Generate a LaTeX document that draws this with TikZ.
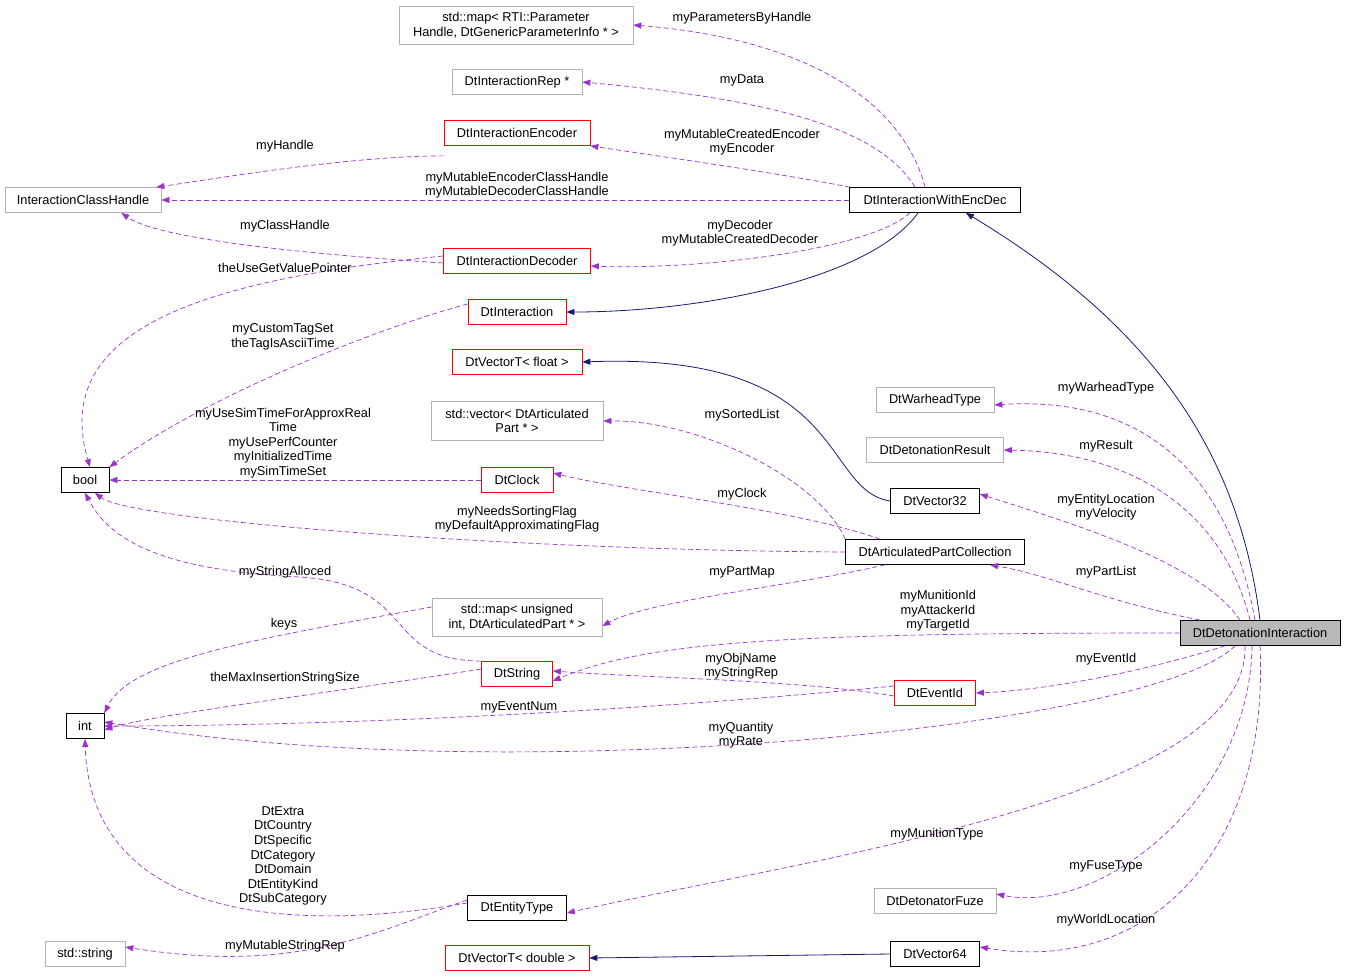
\documentclass[tikz,border=0pt]{standalone}
\usepackage{fontspec}
\setmainfont{Liberation Sans}
\usetikzlibrary{arrows.meta}
\definecolor{pur}{HTML}{9A32CD}
\definecolor{nav}{HTML}{191970}
\begin{document}
\begin{tikzpicture}[x=1pt,y=-1pt,
  every node/.style={font=\fontsize{12.8}{14.6}\selectfont,align=center,inner sep=1pt},
  box/.style={draw,fill=white,minimum height=25,line width=0.7pt},
  blk/.style={box,draw=black},
  red/.style={box,draw=red},
  gry/.style={box,draw=gray!60},
  uses/.style={draw=pur,dashed,line width=0.7pt,-{Triangle[length=8pt,width=6pt]},dash pattern=on 5pt off 3pt},
  inh/.style={draw=nav,line width=0.8pt,-{Triangle[length=8pt,width=6pt]}},
  lab/.style={}]
\useasboundingbox (0,0) rectangle (1347,980);
\node[gry,minimum width=234,minimum height=38] (rti) at (516,25) {std::map< RTI::Parameter\\Handle, DtGenericParameterInfo * >};
\node[gry,minimum width=130] (rep) at (517,82) {DtInteractionRep *};
\node[red,minimum width=146] (enc) at (517,133) {DtInteractionEncoder};
\node[gry,minimum width=156] (ich) at (83,200) {InteractionClassHandle};
\node[blk,minimum width=171] (iwe) at (935,200) {DtInteractionWithEncDec};
\node[red,minimum width=147] (dec) at (517,261) {DtInteractionDecoder};
\node[red,minimum width=98] (int0) at (517,312) {DtInteraction};
\node[red,minimum width=130] (vf) at (517,362) {DtVectorT< float >};
\node[gry,minimum width=172,minimum height=39] (vec) at (517,421) {std::vector< DtArticulated\\Part * >};
\node[blk,minimum width=48] (bool) at (85,480) {bool};
\node[red,minimum width=72] (clk) at (517,480) {DtClock};
\node[gry,minimum width=118] (wh) at (935,400) {DtWarheadType};
\node[gry,minimum width=137] (res) at (935,450) {DtDetonationResult};
\node[blk,minimum width=89] (v32) at (935,501) {DtVector32};
\node[blk,minimum width=179] (apc) at (935,552) {DtArticulatedPartCollection};
\node[gry,minimum width=170,minimum height=38] (mu) at (517,617) {std::map< unsigned\\int, DtArticulatedPart * >};
\node[blk,fill=gray!55,minimum width=160] (ddi) at (1260,633) {DtDetonationInteraction};
\node[red,minimum width=71] (str) at (517,674) {DtString};
\node[red,minimum width=81] (eid) at (935,693) {DtEventId};
\node[blk,minimum width=38] (int) at (85,726) {int};
\node[blk,minimum width=99] (et) at (517,908) {DtEntityType};
\node[gry,minimum width=122] (fuze) at (935,901) {DtDetonatorFuze};
\node[gry,minimum width=80] (ss) at (85,954) {std::string};
\node[red,minimum width=144] (vd) at (517,958) {DtVectorT< double >};
\node[blk,minimum width=89] (v64) at (935,954) {DtVector64};

% inheritance
\draw[inh] (ddi.north) .. controls (1240,460) and (1160,330) .. ([xshift=-55]iwe.south east);
\draw[inh] ([xshift=-17]iwe.south) .. controls (870,280) and (700,312) .. (int0.east);
\draw[inh] (v32.west) .. controls (820,490) and (850,352) .. (vf.east);
\draw[inh] (v64.west) -- (vd.east);

% uses
\draw[uses] ([xshift=-10]iwe.north) .. controls (905,110) and (820,40) .. (rti.east);
\draw[uses] ([xshift=-20]iwe.north) .. controls (880,130) and (780,100) .. (rep.east);
\draw[uses] ([xshift=-85]iwe.north) .. controls (760,170) and (650,155) .. (enc.south east);
\draw[uses] (iwe.west) -- (ich.east);
\draw[uses] ([xshift=-25]iwe.south) .. controls (870,250) and (700,270) .. ([yshift=-5]dec.east);
\draw[uses] ([yshift=-10]enc.south west) .. controls (350,156) and (220,178) .. ([xshift=-5]ich.north east);
\draw[uses] ([yshift=-2]dec.west) .. controls (320,255) and (160,240) .. ([xshift=-40]ich.south east);
\draw[uses] ([yshift=5]dec.west) .. controls (200,280) and (50,330) .. ([xshift=5]bool.north);
\draw[uses] ([yshift=8]int0.west) .. controls (370,330) and (200,400) .. (bool.north east);
\draw[uses] (clk.west) -- (bool.east);
\draw[uses] (apc.west) .. controls (500,550) and (130,520) .. ([xshift=10]bool.south);
\draw[uses] (apc.north west) .. controls (820,480) and (700,420) .. (vec.east);
\draw[uses] ([xshift=-55]apc.north) .. controls (800,510) and (620,490) .. ([yshift=7]clk.east);
\draw[uses] ([xshift=-50]apc.south) .. controls (800,585) and (650,600) .. ([yshift=-9]mu.east);
\draw[uses] (str.north west) .. controls (380,660) and (420,585) .. (300,577) .. controls (160,570) and (110,540) .. (bool.south);
\draw[uses] ([yshift=10]mu.west) .. controls (250,640) and (130,660) .. (int.north east);
\draw[uses] ([yshift=5]str.west) .. controls (350,690) and (150,715) .. ([yshift=-4]int.east);
\draw[uses] ([yshift=-3]eid.west) .. controls (800,680) and (650,678) .. ([yshift=3]str.east);
\draw[uses] ([yshift=7]eid.west) .. controls (600,715) and (300,726) .. (int.east);
\draw[uses] ([xshift=-5]ddi.north) .. controls (1230,480) and (1150,395) .. ([yshift=-5]wh.east);
\draw[uses] ([xshift=-10]ddi.north) .. controls (1220,500) and (1120,452) .. (res.east);
\draw[uses] ([xshift=-20]ddi.north) .. controls (1200,560) and (1060,520) .. ([yshift=7]v32.east);
\draw[uses] ([xshift=-60]ddi.north) .. controls (1100,600) and (1050,575) .. ([xshift=55]apc.south);
\draw[uses] (ddi.west) .. controls (800,633) and (650,640) .. ([yshift=-7]str.east);
\draw[uses] ([xshift=-35]ddi.south) .. controls (1150,670) and (1050,690) .. (eid.east);
\draw[uses] ([xshift=-25]ddi.south) .. controls (1150,730) and (500,790) .. ([yshift=4]int.east);
\draw[uses] ([xshift=-15]ddi.south) .. controls (1250,800) and (800,860) .. ([yshift=-5]et.east);
\draw[uses] ([xshift=-8]ddi.south) .. controls (1250,800) and (1100,915) .. ([yshift=7]fuze.east);
\draw[uses] (ddi.south) .. controls (1270,850) and (1150,975) .. ([yshift=7]v64.east);
\draw[uses] ([yshift=5]et.west) .. controls (250,940) and (90,900) .. (int.south);
\draw[uses] ([yshift=8]et.west) .. controls (380,930) and (300,975) .. ([yshift=7]ss.east);

% labels
\node[lab] (l1) at (742,18) {myParametersByHandle};
\node[lab] (l2) at (742,80) {myData};
\node[lab] (l3) at (742,142) {myMutableCreatedEncoder\\myEncoder};
\node[lab] (l4) at (285,146) {myHandle};
\node[lab] (l5) at (517,185) {myMutableEncoderClassHandle\\myMutableDecoderClassHandle};
\node[lab] (l6) at (285,226) {myClassHandle};
\node[lab] (l7) at (740,233) {myDecoder\\myMutableCreatedDecoder};
\node[lab] (l8) at (285,268) {theUseGetValuePointer};
\node[lab] (l9) at (283,337) {myCustomTagSet\\theTagIsAsciiTime};
\node[lab] (l10) at (283,443) {myUseSimTimeForApproxReal\\Time\\myUsePerfCounter\\myInitializedTime\\mySimTimeSet};
\node[lab] (l11) at (742,415) {mySortedList};
\node[lab] (l12) at (742,494) {myClock};
\node[lab] (l13) at (517,519) {myNeedsSortingFlag\\myDefaultApproximatingFlag};
\node[lab] (l14) at (285,572) {myStringAlloced};
\node[lab] (l15) at (742,572) {myPartMap};
\node[lab] (l16) at (284,624) {keys};
\node[lab] (l17) at (938,611) {myMunitionId\\myAttackerId\\myTargetId};
\node[lab] (l18) at (285,678) {theMaxInsertionStringSize};
\node[lab] (l19) at (741,666) {myObjName\\myStringRep};
\node[lab] (l20) at (519,707) {myEventNum};
\node[lab] (l21) at (1106,659) {myEventId};
\node[lab] (l22) at (741,735) {myQuantity\\myRate};
\node[lab] (l23) at (1106,388) {myWarheadType};
\node[lab] (l24) at (1106,446) {myResult};
\node[lab] (l25) at (1106,507) {myEntityLocation\\myVelocity};
\node[lab] (l26) at (1106,572) {myPartList};
\node[lab] (l27) at (283,856) {DtExtra\\DtCountry\\DtSpecific\\DtCategory\\DtDomain\\DtEntityKind\\DtSubCategory};
\node[lab] (l28) at (937,834) {myMunitionType};
\node[lab] (l29) at (1106,866) {myFuseType};
\node[lab] (l30) at (1106,920) {myWorldLocation};
\node[lab] (l31) at (285,946) {myMutableStringRep};
\end{tikzpicture}
\end{document}
